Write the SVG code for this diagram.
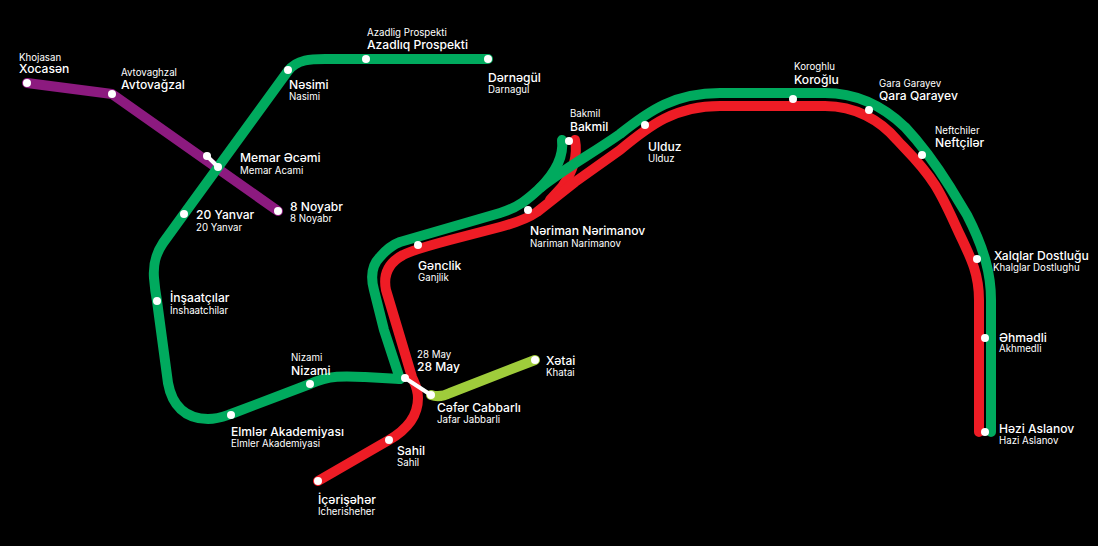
<svg xmlns="http://www.w3.org/2000/svg" width="1098" height="546" viewBox="0 0 1098 546">
<style>
.l{fill:none;stroke-width:10;stroke-linecap:round;stroke-linejoin:round}
.g{stroke:#00aa5e}.r{stroke:#ee1c25}.p{stroke:#8c1a7f}.y{stroke:#9fcc3b}
.x{fill:none;stroke:#fff;stroke-width:4}
circle{fill:#fff}
text{font-family:"Inter","Open Sans",sans-serif;fill:#fff}
.a{font-size:12.1px;font-weight:500}
.b{font-size:9.7px}
</style>
<rect width="1098" height="546" fill="#000"/>
<g id="connectors">
<path class="l p" d="M27 83L112 94L278 211"/>
<path class="l g" d="M488 59H325C312 59 297 59 288 71L184 214L163 243C155 255 153 265 154 278Q155 290 157 301L168 383C172 405 185 419 208 419C218 419 225 416 231 414L310 384C330 375 345 376 365 377L400 379"/>
<path class="l r" d="M575 140C578 155 574 170 562 187L550 200"/>
<path class="l r" d="M318 481L389 440C408 429 418 415 418 398C418 388 414 382 412 377L398 330L386 290C383 275 388 263 403 255C410 251 420 248 450 240L500 227C515 223 527 219 537 212L575 182L620 150C650 125 675 106 720 106H825C855 106 880 120 897 140C905 149 921 163 935 185C945 201 952 218 960 235C972 260 979 275 979 300V432"/>
<path class="l g" d="M400 379L384 330L374 290C370 275 373 264 380 257C386 250 392 245 400 242L500 213C520 207 530 197 540 188C565 168 590 155 620 134C650 110 675 93 720 93H825C860 93 885 108 905 127C920 143 935 163 950 187L967 215C985 250 991 275 991 300V432"/>
<path class="l g" d="M562 140C564 157 556 172 540 188"/>
<path class="l y" d="M431 395Q440 398 450 393L535 360"/>
<path class="x" d="M405 378L431 395M207 156L218 167"/>
</g>
<g id="st-xocasan"><circle cx="27" cy="83" r="4"/><text class="b" x="19" y="61">Khojasan</text><text class="a" x="19" y="73">Xocasən</text></g>
<g id="st-avtovagzal"><circle cx="112" cy="94" r="4"/><text class="b" x="121" y="76">Avtovaghzal</text><text class="a" x="121" y="89">Avtovağzal</text></g>
<g id="st-memar"><circle cx="207" cy="156" r="4"/><circle cx="218" cy="167" r="4"/><text class="a" x="240" y="162">Memar Əcəmi</text><text class="b" x="240" y="174">Memar Acami</text></g>
<g id="st-8noyabr"><circle cx="278" cy="211" r="4"/><text class="a" x="290" y="211">8 Noyabr</text><text class="b" x="290" y="222">8 Noyabr</text></g>
<g id="st-20yanvar"><circle cx="184" cy="214" r="4"/><text class="a" x="196" y="219">20 Yanvar</text><text class="b" x="196" y="231">20 Yanvar</text></g>
<g id="st-insaatcilar"><circle cx="157" cy="301" r="4"/><text class="a" x="170" y="302">İnşaatçılar</text><text class="b" x="170" y="314">İnshaatchilar</text></g>
<g id="st-nasimi"><circle cx="288" cy="70" r="4"/><text class="a" x="289" y="89">Nəsimi</text><text class="b" x="289" y="100">Nasimi</text></g>
<g id="st-azadliq"><circle cx="366" cy="59" r="4"/><text class="b" x="367" y="36">Azadlig Prospekti</text><text class="a" x="367" y="49">Azadlıq Prospekti</text></g>
<g id="st-darnagul"><circle cx="488" cy="59" r="4"/><text class="a" x="488" y="82">Dərnəgül</text><text class="b" x="488" y="93">Darnagul</text></g>
<g id="st-elmlar"><circle cx="231" cy="415" r="4"/><text class="a" x="231" y="436">Elmlər Akademiyası</text><text class="b" x="231" y="447">Elmler Akademiyasi</text></g>
<g id="st-nizami"><circle cx="310" cy="384" r="4"/><text class="b" x="291" y="361">Nizami</text><text class="a" x="291" y="375">Nizami</text></g>
<g id="st-28may"><circle cx="405" cy="378" r="4"/><text class="b" x="417" y="358">28 May</text><text class="a" x="417" y="371">28 May</text></g>
<g id="st-cafar"><circle cx="431" cy="395" r="4"/><text class="a" x="437" y="412">Cəfər Cabbarlı</text><text class="b" x="437" y="423">Jafar Jabbarli</text></g>
<g id="st-xatai"><circle cx="535" cy="360" r="4"/><text class="a" x="546" y="365">Xətai</text><text class="b" x="546" y="376">Khatai</text></g>
<g id="st-sahil"><circle cx="389" cy="440" r="4"/><text class="a" x="397" y="455">Sahil</text><text class="b" x="397" y="466">Sahil</text></g>
<g id="st-icari"><circle cx="318" cy="481" r="4"/><text class="a" x="318" y="504">İçərişəhər</text><text class="b" x="318" y="515">Icherisheher</text></g>
<g id="st-ganclik"><circle cx="418" cy="245" r="4"/><text class="a" x="418" y="270">Gənclik</text><text class="b" x="418" y="281">Ganjlik</text></g>
<g id="st-narimanov"><circle cx="528" cy="210" r="4"/><text class="a" x="530" y="235">Nəriman Nərimanov</text><text class="b" x="530" y="247">Nariman Narimanov</text></g>
<g id="st-bakmil"><circle cx="569" cy="141" r="4"/><text class="b" x="570" y="117">Bakmil</text><text class="a" x="570" y="131">Bakmil</text></g>
<g id="st-ulduz"><circle cx="645" cy="125" r="4"/><text class="a" x="648" y="151">Ulduz</text><text class="b" x="648" y="162">Ulduz</text></g>
<g id="st-koroglu"><circle cx="793" cy="99" r="4"/><text class="b" x="794" y="70">Koroghlu</text><text class="a" x="794" y="84">Koroğlu</text></g>
<g id="st-qara"><circle cx="869" cy="110" r="4"/><text class="b" x="879" y="87">Gara Garayev</text><text class="a" x="879" y="100">Qara Qarayev</text></g>
<g id="st-neftcilar"><circle cx="922" cy="155" r="4"/><text class="b" x="935" y="134">Neftchiler</text><text class="a" x="935" y="147">Neftçilər</text></g>
<g id="st-xalqlar"><circle cx="977" cy="259" r="4"/><text class="a" x="994" y="260">Xalqlar Dostluğu</text><text class="b" x="993" y="271">Khalglar Dostlughu</text></g>
<g id="st-ahmadli"><circle cx="985" cy="338" r="4"/><text class="a" x="999" y="342">Əhmədli</text><text class="b" x="999" y="352">Akhmedli</text></g>
<g id="st-hazi"><circle cx="985" cy="432" r="4"/><text class="a" x="999" y="433">Həzi Aslanov</text><text class="b" x="999" y="444">Hazi Aslanov</text></g>
</svg>
